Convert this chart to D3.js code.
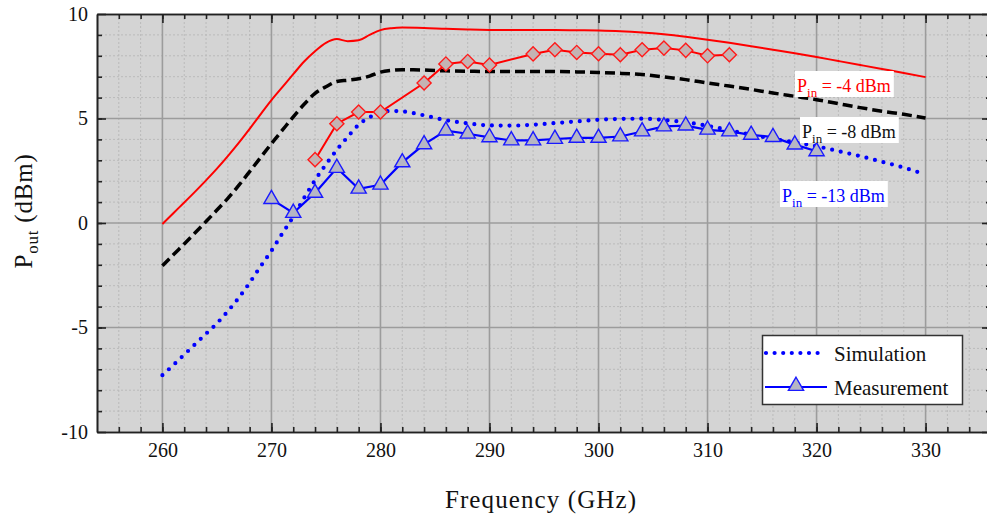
<!DOCTYPE html>
<html>
<head>
<meta charset="utf-8">
<script src="https://cdn.jsdelivr.net/npm/d3@7"></script>
<style>
  body { margin: 0; background: #fff; }
  svg { display: block; }
  svg text { font-family: "Liberation Serif", "DejaVu Serif", "Noto Serif", serif !important; }
</style>
</head>
<body>
<svg id="chart" width="987" height="519"></svg>
<script>
// Simulated output power (dBm) on a shared frequency grid (GHz)
const simFreq = [260, 261, 262, 263, 264, 265, 266, 267, 268, 269, 270, 271, 272, 273, 274, 275, 276, 277, 278, 279, 280, 281, 282,
  284, 286, 288, 290, 292, 294, 296, 298, 300, 302, 304, 306, 308, 310, 312, 314, 316, 318, 320, 322, 324, 326, 328, 330];
const simPinM4 = [-0.05, 0.47, 0.98, 1.5, 2.04, 2.6, 3.2, 3.83, 4.5, 5.2, 5.88, 6.5, 7.12, 7.73, 8.22, 8.62, 8.8, 8.7, 8.74, 9.0, 9.23, 9.32, 9.35,
  9.33, 9.29, 9.26, 9.24, 9.23, 9.23, 9.23, 9.22, 9.21, 9.18, 9.12, 9.03, 8.91, 8.77, 8.62, 8.46, 8.29, 8.12, 7.94, 7.75, 7.56, 7.37, 7.18, 6.98];
const simPinM8 = [-2.05, -1.52, -1.0, -0.47, 0.07, 0.62, 1.18, 1.8, 2.46, 3.13, 3.8, 4.44, 5.08, 5.68, 6.2, 6.52, 6.77, 6.83, 6.9, 7.03, 7.22, 7.3, 7.33,
  7.32, 7.28, 7.26, 7.25, 7.25, 7.25, 7.25, 7.23, 7.2, 7.16, 7.1, 6.99, 6.86, 6.7, 6.55, 6.39, 6.22, 6.06, 5.9, 5.71, 5.52, 5.35, 5.2, 5.02];
const simPinM13 = [-7.28, -6.8, -6.3, -5.8, -5.3, -4.8, -4.22, -3.58, -2.86, -2.08, -1.33, -0.5, 0.3, 1.2, 2.05, 2.8, 3.5, 4.12, 4.7, 5.06, 5.28, 5.36, 5.34,
  5.15, 4.92, 4.77, 4.67, 4.66, 4.7, 4.78, 4.86, 4.94, 4.98, 4.99, 4.93, 4.82, 4.65, 4.44, 4.22, 4.03, 3.86, 3.67, 3.44, 3.2, 2.93, 2.65, 2.32];

// Measured output power (dBm)
const measFreqM4 = [274, 276, 278, 280, 284, 286, 288, 290, 294, 296, 298, 300, 302, 304, 306, 308, 310, 312];
const measPinM4 = [3.03, 4.75, 5.31, 5.31, 6.7, 7.61, 7.73, 7.56, 8.09, 8.29, 8.16, 8.1, 8.05, 8.29, 8.37, 8.26, 8.0, 8.05];
const measFreqM13 = [270, 272, 274, 276, 278, 280, 282, 284, 286, 288, 290, 292, 294, 296, 298, 300, 302, 304, 306, 308, 310, 312, 314, 316, 318, 320];
const measPinM13 = [1.14, 0.48, 1.44, 2.63, 1.64, 1.83, 2.9, 3.76, 4.42, 4.27, 4.1, 3.95, 3.95, 4.02, 4.07, 4.07, 4.14, 4.38, 4.62, 4.66, 4.46, 4.38, 4.22, 4.11, 3.75, 3.43];

// Axis ticks and labels
const xTicks = [260, 270, 280, 290, 300, 310, 320, 330];
const xTickLabels = ["260", "270", "280", "290", "300", "310", "320", "330"];
const yTicks = [-10, -5, 0, 5, 10];
const yTickLabels = ["-10", "-5", "0", "5", "10"];
const legendLabels = ["Simulation", "Measurement"];
const pinLabels = ["-4 dBm", "-8 dBm", "-13 dBm"];

const FONT = "'Liberation Serif', 'DejaVu Serif', 'Noto Serif', serif";
const svg = d3.select("#chart");
const x = d3.scaleLinear().domain([254, 336]).range([97, 991]);
const y = d3.scaleLinear().domain([-10, 10]).range([432, 14]);
const [x0, x1] = x.range();
const [yb, yt] = y.range();

// Plot background
svg.append("rect").attr("x", x0).attr("y", yt).attr("width", x1 - x0).attr("height", yb - yt).attr("fill", "#d4d4d4");

svg.append("clipPath").attr("id", "plotClip")
  .append("rect").attr("x", x0).attr("y", yt).attr("width", x1 - x0).attr("height", yb - yt);

// Minor grid
const xMinor = d3.range(256, 336, 2).filter(v => v % 10 !== 0);
const yMinor = d3.range(-9, 10, 1).filter(v => v % 5 !== 0);
const grid = svg.append("g");
grid.selectAll(".xm").data(xMinor).join("line")
  .attr("x1", d => x(d)).attr("x2", d => x(d)).attr("y1", yt).attr("y2", yb)
  .attr("stroke", "#bababa").attr("stroke-width", 1).attr("stroke-dasharray", "2 2");
grid.selectAll(".ym").data(yMinor).join("line")
  .attr("x1", x0).attr("x2", x1).attr("y1", d => y(d)).attr("y2", d => y(d))
  .attr("stroke", "#bababa").attr("stroke-width", 1).attr("stroke-dasharray", "2 2");
// Major grid
grid.selectAll(".xM").data(xTicks).join("line")
  .attr("x1", d => x(d)).attr("x2", d => x(d)).attr("y1", yt).attr("y2", yb)
  .attr("stroke", "#9c9c9c").attr("stroke-width", 1.6);
grid.selectAll(".yM").data([-5, 0, 5]).join("line")
  .attr("x1", x0).attr("x2", x1).attr("y1", d => y(d)).attr("y2", d => y(d))
  .attr("stroke", "#9c9c9c").attr("stroke-width", 1.6);

// Data layer
const plot = svg.append("g").attr("clip-path", "url(#plotClip)");
const simLine = vals => d3.line().curve(d3.curveMonotoneX)
  .x((d, i) => x(simFreq[i])).y(d => y(d))(vals);

plot.append("path").attr("d", simLine(simPinM4))
  .attr("fill", "none").attr("stroke", "#ff0000").attr("stroke-width", 2);
plot.append("path").attr("d", simLine(simPinM8))
  .attr("fill", "none").attr("stroke", "#000").attr("stroke-width", 3.5).attr("stroke-dasharray", "10 5");
plot.append("path").attr("d", simLine(simPinM13))
  .attr("fill", "none").attr("stroke", "#0000ff").attr("stroke-width", 4.2)
  .attr("stroke-linecap", "round").attr("stroke-dasharray", "0 8.8");

const measLine = (fs, vs) => d3.line().x((d, i) => x(fs[i])).y(d => y(d))(vs);

// Pin = -4 dBm measurement (diamonds)
plot.append("path").attr("d", measLine(measFreqM4, measPinM4))
  .attr("fill", "none").attr("stroke", "#ff0000").attr("stroke-width", 2);
const diamond = d3.symbol().type(d3.symbolSquare).size(100);
plot.selectAll(".dia").data(measPinM4).join("path")
  .attr("d", diamond)
  .attr("transform", (d, i) => `translate(${x(measFreqM4[i])},${y(d)}) rotate(45)`)
  .attr("fill", "#c4b3b3").attr("stroke", "#ff1a1a").attr("stroke-width", 1.4);

// Pin = -13 dBm measurement (triangles)
plot.append("path").attr("d", measLine(measFreqM13, measPinM13))
  .attr("fill", "none").attr("stroke", "#0000ff").attr("stroke-width", 2.2);
const tri = d3.symbol().type(d3.symbolTriangle).size(100);
plot.selectAll(".tri").data(measPinM13).join("path")
  .attr("d", tri)
  .attr("transform", (d, i) => `translate(${x(measFreqM13[i])},${y(d)})`)
  .attr("fill", "#b6b6c4").attr("stroke", "#1a1aff").attr("stroke-width", 1.4);

// Axes with inward ticks
const axisStyle = g => {
  g.attr("font-family", FONT);
  g.select(".domain").attr("stroke", "#222").attr("stroke-width", 1.6);
  g.selectAll(".tick line").attr("stroke", "#222").attr("stroke-width", 1.6);
  g.selectAll(".tick text").attr("fill", "#111").style("font-size", "20px").style("font-family", FONT);
};
const xMinorAll = d3.range(256, 336, 2);
const yMinorAll = d3.range(-9, 10, 1);

svg.append("g").attr("transform", `translate(0,${yb})`)
  .call(d3.axisBottom(x).tickValues(xMinorAll).tickSize(-5).tickSizeOuter(0).tickFormat(""))
  .call(axisStyle);
svg.append("g").attr("transform", `translate(0,${yb})`)
  .call(d3.axisBottom(x).tickValues(xTicks).tickSize(-9).tickSizeOuter(0).tickPadding(11)
    .tickFormat((d, i) => xTickLabels[i]))
  .call(axisStyle);
svg.append("g").attr("transform", `translate(0,${yt})`)
  .call(d3.axisTop(x).tickValues(xMinorAll).tickSize(-5).tickSizeOuter(0).tickFormat(""))
  .call(axisStyle);
svg.append("g").attr("transform", `translate(0,${yt})`)
  .call(d3.axisTop(x).tickValues(xTicks).tickSize(-9).tickSizeOuter(0).tickFormat(""))
  .call(axisStyle);

svg.append("g").attr("transform", `translate(${x0},0)`)
  .call(d3.axisLeft(y).tickValues(yMinorAll).tickSize(-5).tickSizeOuter(0).tickFormat(""))
  .call(axisStyle);
svg.append("g").attr("transform", `translate(${x0},0)`)
  .call(d3.axisLeft(y).tickValues(yTicks).tickSize(-9).tickSizeOuter(0).tickPadding(9)
    .tickFormat((d, i) => yTickLabels[i]))
  .call(axisStyle);
svg.append("g").attr("transform", `translate(${x1},0)`)
  .call(d3.axisRight(y).tickValues(yMinorAll).tickSize(-5).tickSizeOuter(0).tickFormat(""))
  .call(axisStyle);
svg.append("g").attr("transform", `translate(${x1},0)`)
  .call(d3.axisRight(y).tickValues(yTicks).tickSize(-9).tickSizeOuter(0).tickFormat(""))
  .call(axisStyle);

// Axis titles
svg.append("text").attr("x", 541).attr("y", 508).attr("text-anchor", "middle")
  .style("font-family", FONT).style("font-size", "25px").style("letter-spacing", "1.1px").attr("fill", "#111")
  .text("Frequency (GHz)");
const yTitle = svg.append("text").attr("transform", "translate(32,211) rotate(-90)")
  .attr("text-anchor", "middle").style("font-family", FONT).style("font-size", "25px")
  .style("letter-spacing", "0.8px").attr("fill", "#111");
yTitle.append("tspan").text("P");
yTitle.append("tspan").attr("dy", 6).style("font-size", "17px").text("out");
yTitle.append("tspan").attr("dy", -6).text(" (dBm)");

// Input power annotations on white boxes
function pinLabel(tx, ty, label, color) {
  const g = svg.append("g");
  const bg = g.append("rect").attr("fill", "#fff");
  const t = g.append("text").attr("x", tx).attr("y", ty).attr("fill", color)
    .style("font-family", FONT).style("font-size", "18px");
  t.append("tspan").text("P");
  t.append("tspan").attr("dy", 5).style("font-size", "13px").text("in");
  t.append("tspan").attr("dy", -5).text(" = " + label);
  const b = t.node().getBBox();
  bg.attr("x", b.x - 2).attr("y", ty - 21).attr("width", b.width + 5).attr("height", 26);
}
pinLabel(797, 92, pinLabels[0], "#ff0000");
pinLabel(802, 138, pinLabels[1], "#111");
pinLabel(782, 202, pinLabels[2], "#0000ff");

// Legend
const lg = svg.append("g");
lg.append("rect").attr("x", 762.5).attr("y", 335.5).attr("width", 200).attr("height", 69)
  .attr("fill", "#fff").attr("stroke", "#333").attr("stroke-width", 1.5);
lg.append("line").attr("x1", 766).attr("x2", 826).attr("y1", 353).attr("y2", 353)
  .attr("stroke", "#0000ff").attr("stroke-width", 4.2).attr("stroke-linecap", "round").attr("stroke-dasharray", "0 8.6");
lg.append("line").attr("x1", 765).attr("x2", 827).attr("y1", 387).attr("y2", 387)
  .attr("stroke", "#0000ff").attr("stroke-width", 2.2);
lg.append("path").attr("d", tri).attr("transform", "translate(796,386)")
  .attr("fill", "#b6b6c4").attr("stroke", "#1a1aff").attr("stroke-width", 1.4);
lg.selectAll(".lt").data(legendLabels).join("text")
  .attr("x", 834).attr("y", (d, i) => 361 + i * 34)
  .style("font-family", FONT).style("font-size", "21px").attr("fill", "#111").text(d => d);
</script>
</body>
</html>
